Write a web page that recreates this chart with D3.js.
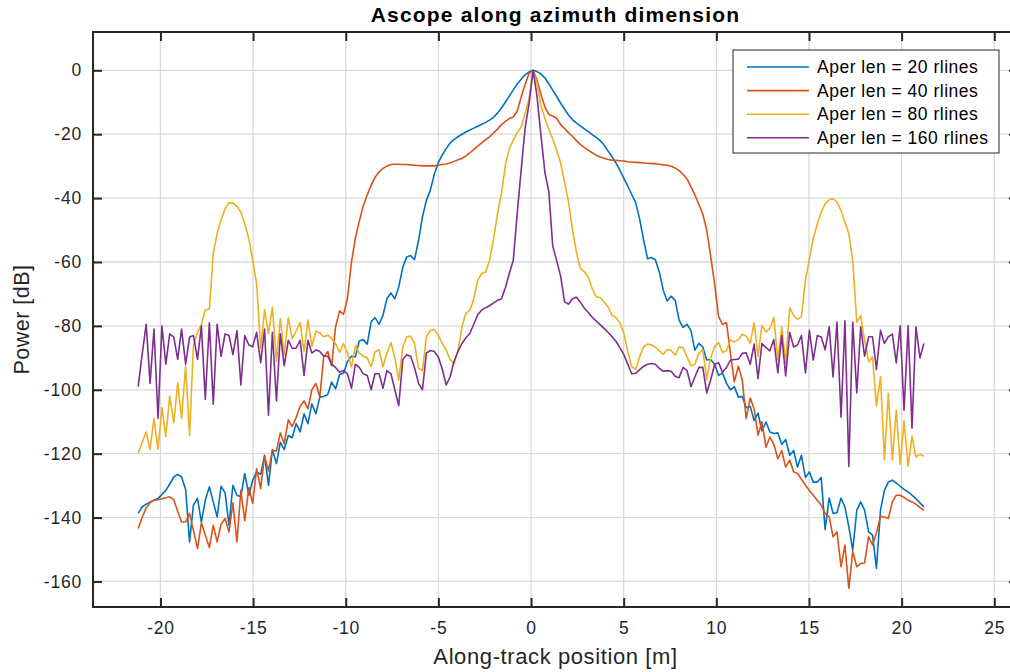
<!DOCTYPE html>
<html>
<head>
<meta charset="utf-8">
<script src="https://cdn.jsdelivr.net/npm/d3@7"></script>
<style>
  body { margin: 0; background: #fff; }
  svg text { font-family: "Liberation Sans", Arial, sans-serif; }
</style>
</head>
<body>
<svg id="chart" width="1010" height="672"></svg>
<script>
// along-track sample positions [m]
const positions = [
  -21.20, -20.99, -20.77, -20.56, -20.35, -20.13, -19.92, -19.71, -19.50, -19.28,
  -19.07, -18.86, -18.64, -18.43, -18.22, -18.00, -17.79, -17.58, -17.36, -17.15,
  -16.94, -16.73, -16.51, -16.30, -16.09, -15.87, -15.66, -15.45, -15.23, -15.02,
  -14.81, -14.59, -14.38, -14.17, -13.96, -13.74, -13.53, -13.32, -13.10, -12.89,
  -12.68, -12.46, -12.25, -12.04, -11.83, -11.61, -11.40, -11.19, -10.97, -10.76,
  -10.55, -10.33, -10.12, -9.91, -9.69, -9.48, -9.27, -9.06, -8.84, -8.63,
  -8.42, -8.20, -7.99, -7.78, -7.56, -7.35, -7.14, -6.92, -6.71, -6.50,
  -6.29, -6.07, -5.86, -5.65, -5.43, -5.22, -5.01, -4.79, -4.58, -4.37,
  -4.15, -3.94, -3.73, -3.52, -3.30, -3.09, -2.88, -2.66, -2.45, -2.24,
  -2.02, -1.81, -1.60, -1.38, -1.17, -0.96, -0.75, -0.53, -0.32, -0.11,
  0.11, 0.32, 0.53, 0.75, 0.96, 1.17, 1.38, 1.60, 1.81, 2.02,
  2.24, 2.45, 2.66, 2.88, 3.09, 3.30, 3.52, 3.73, 3.94, 4.15,
  4.37, 4.58, 4.79, 5.01, 5.22, 5.43, 5.65, 5.86, 6.07, 6.29,
  6.50, 6.71, 6.92, 7.14, 7.35, 7.56, 7.78, 7.99, 8.20, 8.42,
  8.63, 8.84, 9.06, 9.27, 9.48, 9.69, 9.91, 10.12, 10.33, 10.55,
  10.76, 10.97, 11.19, 11.40, 11.61, 11.83, 12.04, 12.25, 12.46, 12.68,
  12.89, 13.10, 13.32, 13.53, 13.74, 13.96, 14.17, 14.38, 14.59, 14.81,
  15.02, 15.23, 15.45, 15.66, 15.87, 16.09, 16.30, 16.51, 16.73, 16.94,
  17.15, 17.36, 17.58, 17.79, 18.00, 18.22, 18.43, 18.64, 18.86, 19.07,
  19.28, 19.50, 19.71, 19.92, 20.13, 20.35, 20.56, 20.77, 20.99, 21.20
];

// power [dB] per aperture length
const aper20 = [
  -138.7, -136.7, -135.8, -135.2, -134.6, -134, -132.8, -131.5, -129.5, -127.3,
  -126.5, -127.3, -131.2, -147.6, -136.1, -134, -141.4, -134.6, -130.4, -135.1,
  -139.8, -130.2, -132.3, -142.4, -129.9, -133, -133.5, -126.2, -133, -128.3,
  -125.7, -126.5, -120.5, -129.9, -118.7, -123.1, -116.4, -118.7, -114.3, -115,
  -110.6, -113.2, -107.5, -110.6, -104.4, -107.5, -102.3, -102.1, -101.5, -97.6,
  -99.7, -95.2, -94.8, -91.2, -89.5, -89.7, -84.7, -84.3, -85.7, -78.7,
  -77.4, -79.5, -76.7, -71.5, -69.7, -71.5, -67.8, -61.6, -58.4, -58,
  -59.3, -53.2, -45.9, -40.7, -37.5, -32.5, -29, -26.5, -24.5, -22.8,
  -21.6, -20.8, -20, -19.3, -18.7, -18.1, -17.5, -16.9, -16.3, -15.6,
  -14.7, -13.4, -11.8, -9.9, -8, -6.2, -4.3, -2.8, -1.4, -0.5,
  0, -0.4, -1.1, -2.4, -4.2, -6.2, -8.2, -10.3, -12.2, -14,
  -15.5, -16.5, -17.4, -18.3, -19.2, -20.1, -21, -22, -23.4, -25.2,
  -27, -29, -31.2, -33.8, -36.2, -38.8, -41.5, -46.5, -53, -59,
  -58.6, -59.3, -63.1, -68.9, -72.2, -70.7, -72, -78.2, -80.5, -79.5,
  -81.5, -87.6, -85.5, -86.6, -90.7, -90.5, -92, -95.5, -94.7, -98,
  -100, -99, -102.3, -102.1, -105.6, -105.2, -109.6, -107.3, -112.9, -110.1,
  -113.2, -113.7, -113.5, -117.1, -115.6, -120.5, -119, -124.2, -120.5, -127.5,
  -125.7, -128.9, -128.9, -127.5, -143.7, -133.9, -138.7, -138.5, -133.9, -136.7,
  -142.9, -150.2, -137.7, -135.1, -137.7, -144.5, -145.5, -155.9, -137.7, -131.5,
  -128.9, -128.3, -129.2, -130.2, -131.2, -132, -133, -134.1, -135.4, -136.7
];

const aper40 = [
  -143.4, -140, -137, -135.3, -134.6, -134.4, -134.1, -133.8, -133.5, -134.5,
  -138, -141.4, -141.4, -138.7, -144, -149.7, -141.7, -145.5, -149.4, -142.4,
  -147.6, -142.1, -140.3, -144.5, -135.4, -147.6, -131.5, -141, -130.6, -135.6,
  -124.7, -130.9, -120.8, -125.4, -119, -119.2, -113.5, -116.9, -109.4, -111.5,
  -108.7, -105.2, -103.5, -106, -100, -98, -102.3, -89.7, -88, -92.5,
  -80.3, -75.3, -76.4, -71.5, -60, -52.5, -47.3, -42.5, -39, -36,
  -33.5, -31.8, -30.7, -30, -29.5, -29.4, -29.4, -29.5, -29.5, -29.6,
  -29.7, -29.8, -29.9, -29.9, -29.9, -29.9, -29.7, -29.5, -29.3, -29,
  -28.5, -28, -27.6, -26.8, -25.8, -24.8, -23.7, -22.7, -21.7, -20.8,
  -19.6, -18.4, -17, -16, -15.1, -14.6, -12.8, -8.3, -4.4, -1,
  0, -3, -7.5, -11.5, -13.8, -14.3, -15, -17, -18.2, -19.5,
  -20.7, -22, -23.2, -24.2, -25, -25.8, -26.6, -27.1, -27.5, -27.9,
  -28.1, -28.2, -28.3, -28.4, -28.6, -28.7, -28.8, -28.9, -29, -29.1,
  -29.2, -29.2, -29.4, -29.6, -29.7, -30, -30.6, -31.4, -32.5, -34,
  -36.5, -39, -42, -45, -50, -58, -67, -77, -79.5, -79,
  -88.6, -97.5, -92.6, -97, -109, -102.6, -106, -114.2, -110, -118,
  -114.8, -117, -121.6, -119, -124.2, -122, -125.7, -126.2, -128, -129.9,
  -131.5, -133, -134.6, -136.1, -138.7, -139.8, -146, -144.5, -155.4, -148.6,
  -162.2, -150.6, -155.4, -154.4, -154.2, -146, -148.6, -144.8, -139.6, -139.8,
  -140.3, -135.1, -133, -133, -133.7, -134.6, -135.1, -135.8, -136.9, -137.7
];

const aper80 = [
  -119.8, -116.5, -113.2, -118.7, -109, -118.7, -105.6, -114.6, -102, -110.3,
  -97.8, -109, -92.6, -114.3, -86, -82, -79.5, -75, -74.7, -57.4,
  -51.1, -46.8, -43.3, -41.5, -41.5, -42.6, -44.4, -48, -52.7, -59.5,
  -66.8, -87, -75, -82.4, -74.2, -91.2, -77.7, -89.2, -77.4, -84,
  -81.6, -79, -88.1, -78.2, -86.4, -81.6, -82.2, -83.4, -82.9, -84,
  -85.5, -88.3, -85.5, -88.5, -92.8, -86.2, -88.5, -89.5, -90, -92.8,
  -88.1, -87.5, -92.8, -88.5, -85.3, -90, -97, -86.6, -83.4, -83.2,
  -85.5, -93.3, -94, -83.4, -81.4, -81.1, -82.9, -85.5, -87.6, -90.5,
  -91.8, -87.6, -80.3, -76.1, -75.1, -71.5, -65.7, -63.6, -63.1, -59.5,
  -52.7, -44.9, -38.6, -29.5, -24.5, -21.9, -19.5, -17.7, -13.5, -9,
  0, -4, -11, -15, -18.5, -21.5, -25, -29, -35, -41,
  -50, -56.9, -62, -63.1, -64.7, -68.3, -70.9, -71.1, -72.5, -74,
  -76.7, -77.4, -79, -82.4, -88, -92.8, -93.6, -89.7, -86.6, -85.7,
  -86, -86.6, -87.8, -88.9, -87.4, -87.6, -89.2, -86.6, -86.8, -89.7,
  -92.5, -92, -88.6, -87.4, -96.8, -90, -86.5, -85.2, -88.3, -87.8,
  -84.4, -85, -84.3, -82.6, -83.2, -85.5, -79, -89.5, -79.8, -81.9,
  -80.8, -77.4, -90.7, -80.3, -91.8, -74.3, -76.7, -78, -77, -65.7,
  -59, -52.7, -48, -44.4, -41.8, -40.5, -40.2, -41.2, -43.9, -47.5,
  -51.1, -59.5, -78.9, -76.8, -84.5, -91.2, -89.7, -105.1, -95.9, -122,
  -101.1, -122, -106.4, -123.4, -109.7, -124, -114.5, -121, -120.2, -120.8
];

const aper160 = [
  -99, -89, -79.5, -98, -81, -109, -80, -92, -82.5, -83.5,
  -90.5, -81, -92, -83.5, -83, -90.5, -80, -103, -79, -104.5,
  -79.5, -89.5, -82.5, -83, -89, -81.5, -98.5, -83, -86, -86.5,
  -82, -91.5, -81, -108, -82, -103.5, -82.5, -92.5, -84.5, -87,
  -87, -84.5, -95.5, -84.5, -88.5, -87.5, -88, -89.5, -89.5, -92,
  -93, -94.5, -94, -95, -99.5, -92, -93, -95, -95.5, -100,
  -95, -95, -99.5, -94, -95, -100, -105, -90.5, -89, -89.5,
  -93, -98, -100, -88.5, -87.7, -88, -89.7, -93.5, -98.5, -96,
  -91, -88, -85.5, -83.8, -82.3, -79.5, -76.5, -75, -74.3, -73.7,
  -72.8, -72, -71.6, -68, -63.5, -59.5, -45, -31, -18, -10.5,
  0, -8, -20, -32, -38, -55, -59.5, -64.5, -72.5, -73.2,
  -71.5, -71, -72.5, -74.5, -75.8, -77.3, -78.5, -79.6, -80.8, -82,
  -83.4, -84.8, -86.8, -89, -92, -95, -94.8, -93.7, -92.7, -92,
  -91.8, -92, -93.3, -94.2, -94, -94.2, -95.8, -96.2, -93, -94,
  -99, -96, -93, -93, -101, -97, -92, -91.5, -94.5, -93,
  -90.7, -90.5, -90.4, -88.6, -88.4, -92, -85.7, -96.5, -85.5, -86.8,
  -87.8, -84.3, -94.7, -83, -95.7, -82, -86.6, -86, -83, -94.7,
  -81.4, -90.7, -83, -83.5, -87.5, -80.3, -96, -78.8, -108.6, -78.4,
  -124, -78.8, -101, -80.3, -89.5, -83.4, -83.4, -93.6, -81.4, -85.5,
  -83.4, -82.6, -91.6, -80, -106.4, -80, -112, -80.3, -90, -85.5
];

const seriesNames = [
  "Aper len = 20 rlines",
  "Aper len = 40 rlines",
  "Aper len = 80 rlines",
  "Aper len = 160 rlines",
];
const seriesColors = ["#0072bd", "#d95319", "#edb120", "#7e2f8e"];
const xTicks = [-20, -15, -10, -5, 0, 5, 10, 15, 20, 25];
const yTicks = [-160, -140, -120, -100, -80, -60, -40, -20, 0];

window.addEventListener("load", () => {
  const margin = { left: 93, top: 32 };
  const width = 925,
    height = 575;
  const axis_color = "#262626";

  let svg = d3.select("#chart");
  let plot = svg
    .append("g")
    .attr("transform", `translate(${margin.left},${margin.top})`);

  let x_scale = d3.scaleLinear().domain([-23.64, 26.28]).range([0, width]);
  let y_scale = d3.scaleLinear().domain([-168, 12]).range([height, 0]);

  // grid
  plot
    .selectAll(".gx")
    .data(xTicks)
    .enter()
    .append("line")
    .attr("x1", (d) => x_scale(d))
    .attr("x2", (d) => x_scale(d))
    .attr("y1", 0)
    .attr("y2", height)
    .attr("stroke", "#dadada")
    .attr("stroke-width", 1.3);
  plot
    .selectAll(".gy")
    .data(yTicks)
    .enter()
    .append("line")
    .attr("x1", 0)
    .attr("x2", width)
    .attr("y1", (d) => y_scale(d))
    .attr("y2", (d) => y_scale(d))
    .attr("stroke", "#dadada")
    .attr("stroke-width", 1.3);

  // curves
  const series = [aper20, aper40, aper80, aper160];
  const line = d3
    .line()
    .x((d, i) => x_scale(positions[i]))
    .y((d) => y_scale(d));
  plot
    .selectAll(".curve")
    .data(series)
    .enter()
    .append("path")
    .attr("d", (s) => line(s))
    .attr("fill", "none")
    .attr("stroke", (s, i) => seriesColors[i])
    .attr("stroke-width", 1.6)
    .attr("stroke-linejoin", "round");

  // axes, ticks point inward like matlab
  const fmt = (d) => String(d);
  const styleAxis = (g, labels) => {
    g.select(".domain").remove();
    g.selectAll(".tick line").attr("stroke", axis_color).attr("stroke-width", 2);
    g.selectAll(".tick text")
      .attr("fill", axis_color)
      .style("font-size", "17.5px")
      .style("letter-spacing", "0.8px");
    if (!labels) g.selectAll(".tick text").remove();
  };

  plot
    .append("g")
    .attr("transform", `translate(0,${height})`)
    .call(d3.axisBottom(x_scale).tickValues(xTicks).tickFormat(fmt).tickSizeInner(-9).tickSizeOuter(0).tickPadding(15))
    .call((g) => styleAxis(g, true));
  plot
    .append("g")
    .call(d3.axisTop(x_scale).tickValues(xTicks).tickSizeInner(-9).tickSizeOuter(0))
    .call((g) => styleAxis(g, false));
  plot
    .append("g")
    .call(d3.axisLeft(y_scale).tickValues(yTicks).tickFormat(fmt).tickSizeInner(-9).tickSizeOuter(0).tickPadding(11))
    .call((g) => styleAxis(g, true));
  plot
    .append("g")
    .attr("transform", `translate(${width},0)`)
    .call(d3.axisRight(y_scale).tickValues(yTicks).tickSizeInner(-9).tickSizeOuter(0))
    .call((g) => styleAxis(g, false));

  plot
    .append("rect")
    .attr("width", width)
    .attr("height", height)
    .attr("fill", "none")
    .attr("stroke", axis_color)
    .attr("stroke-width", 2);

  // labels
  svg
    .append("text")
    .attr("x", margin.left + width / 2)
    .attr("y", 22)
    .attr("text-anchor", "middle")
    .style("font-size", "21px")
    .style("font-weight", "bold")
    .style("letter-spacing", "1.2px")
    .text("Ascope along azimuth dimension");
  svg
    .append("text")
    .attr("x", margin.left + width / 2)
    .attr("y", 664)
    .attr("text-anchor", "middle")
    .attr("fill", axis_color)
    .style("font-size", "22px")
    .style("letter-spacing", "0.6px")
    .text("Along-track position [m]");
  svg
    .append("text")
    .attr("transform", `translate(29,${margin.top + height / 2}) rotate(-90)`)
    .attr("text-anchor", "middle")
    .attr("fill", axis_color)
    .style("font-size", "21.5px")
    .style("letter-spacing", "0.5px")
    .text("Power [dB]");

  // legend
  let legend = svg.append("g").attr("transform", "translate(733,50)");
  legend
    .append("rect")
    .attr("width", 266)
    .attr("height", 103)
    .attr("fill", "#fff")
    .attr("stroke", axis_color)
    .attr("stroke-width", 1);
  let items = legend
    .selectAll(".item")
    .data(seriesNames)
    .enter()
    .append("g")
    .attr("transform", (d, i) => `translate(0,${17 + i * 23.6})`);
  items
    .append("line")
    .attr("x1", 14)
    .attr("x2", 76)
    .attr("stroke", (d, i) => seriesColors[i])
    .attr("stroke-width", 1.6);
  items
    .append("text")
    .attr("x", 84)
    .attr("y", 6)
    .attr("fill", "#000")
    .style("font-size", "17.5px")
    .style("letter-spacing", "0.5px")
    .text((d) => d);
});
</script>
</body>
</html>
